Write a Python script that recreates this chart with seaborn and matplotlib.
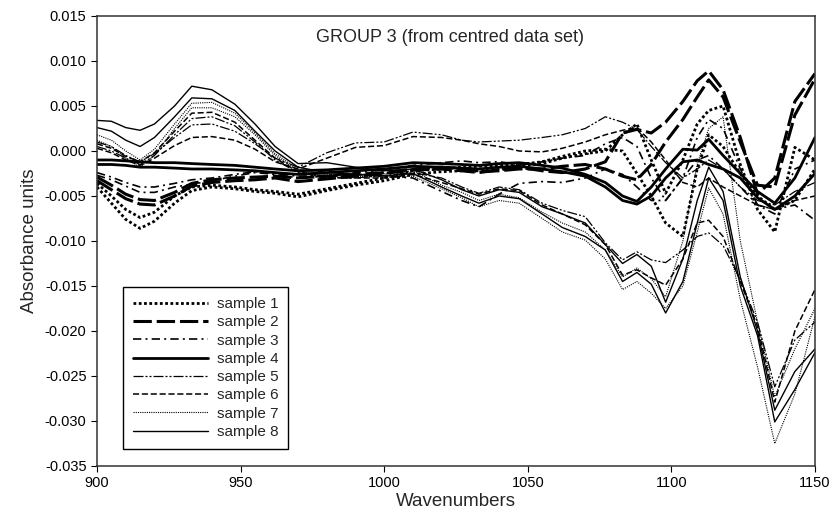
import numpy as np
import pandas as pd
import matplotlib
matplotlib.use("Agg")
import matplotlib.pyplot as plt
import seaborn as sns

wavenumbers = [900, 905, 910, 915, 920, 927, 933, 940, 948, 955, 962, 970, 980, 990,
               1000, 1010, 1020, 1027, 1033, 1040, 1047, 1055, 1062, 1070, 1077, 1083,
               1088, 1093, 1098, 1104, 1109, 1113, 1118, 1124, 1130, 1136, 1143, 1150]

# Absorbance values, in units of 1e-3
s1_rep1 = [-4.0, -5.8, -7.6, -8.6, -7.8, -5.8, -4.4, -4.0, -4.2, -4.5, -4.7, -5.1, -4.4, -3.8,
           -3.3, -2.6, -2.3, -2.2, -2.2, -2.0, -1.6, -1.4, -0.8, -0.3, 0.0, 1.8,
           3.0, -1.0, -4.7, -1.0, 3.0, 4.5, 5.0, -1.5, -6.5, -9.0, 0.4, -1.0]
s1_rep2 = [-3.6, -5.0, -6.5, -7.4, -6.8, -5.0, -4.0, -3.8, -4.0, -4.3, -4.5, -4.8, -4.2, -3.6,
           -3.0, -2.2, -2.0, -1.8, -1.7, -1.6, -1.5, -1.2, -0.6, 0.0, 0.2, 0.0,
           -2.5, -5.0, -8.0, -9.5, -2.0, 1.8, 0.5, -2.5, -5.0, -6.5, -5.5, -2.0]
s2_rep1 = [-3.3, -4.3, -5.3, -5.9, -6.0, -5.0, -3.9, -3.5, -3.3, -3.2, -3.0, -3.4, -3.1, -2.8,
           -2.5, -2.1, -2.0, -2.2, -2.4, -2.1, -1.8, -2.2, -2.4, -2.0, -1.2, 2.0,
           2.4, 2.0, 3.2, 5.5, 7.8, 8.9, 6.8, 1.5, -4.8, -3.0, 5.5, 8.6]
s2_rep2 = [-2.9, -3.8, -4.8, -5.4, -5.5, -4.6, -3.6, -3.2, -3.0, -2.9, -2.8, -3.0, -2.8, -2.6,
           -2.4, -2.0, -1.8, -2.0, -2.3, -2.2, -2.0, -2.0, -1.7, -1.5, -2.0, -2.8,
           -3.2, -1.5, 1.0, 3.5, 6.0, 7.9, 6.0, 1.0, -3.8, -4.0, 4.0, 8.0]
s3_rep1 = [-2.7, -3.2, -3.9, -4.6, -4.6, -4.0, -3.7, -3.3, -2.8, -2.4, -2.6, -3.0, -2.8, -2.4,
           -2.1, -1.6, -1.3, -1.1, -1.3, -1.2, -1.5, -1.2, -0.8, -0.5, 0.8, 1.5,
           0.5, -3.0, -5.5, -3.0, 1.5, 3.5, 2.5, -2.0, -6.0, -7.0, -2.0, -1.0]
s3_rep2 = [-2.4, -2.9, -3.5, -4.0, -4.0, -3.6, -3.2, -3.0, -2.6, -2.3, -2.5, -2.8, -2.7, -2.6,
           -2.8, -3.0, -4.5, -5.5, -6.2, -4.8, -3.6, -3.4, -3.5, -3.0, -2.0, -2.6,
           -4.0, -5.5, -5.5, -3.0, -1.0, -0.5, -2.0, -4.0, -6.0, -6.5, -6.0, -7.7]
s4_rep1 = [-1.0, -1.0, -1.1, -1.2, -1.3, -1.3, -1.4, -1.5, -1.6, -1.8, -2.0, -2.2, -2.1, -1.9,
           -1.7, -1.3, -1.4, -1.5, -1.6, -1.4, -1.3, -1.6, -1.9, -2.6, -3.5, -5.0,
           -5.6, -4.0, -2.0, 0.2, 0.1, 1.3, -0.5, -2.5, -4.5, -5.8, -3.0, 1.5]
s4_rep2 = [-1.5, -1.5, -1.6, -1.8, -1.8, -1.9, -2.0, -2.0, -2.1, -2.2, -2.4, -2.6, -2.4, -2.2,
           -2.0, -1.7, -1.8, -1.9, -2.0, -1.8, -1.7, -2.0, -2.3, -2.8, -4.0, -5.5,
           -5.9, -5.0, -3.0, -1.2, -1.0, -1.5, -2.0, -3.0, -5.2, -6.5, -5.0, -2.5]
s5_rep1 = [0.5, 0.0, -0.8, -1.5, -0.5, 1.8, 3.6, 3.8, 2.8, 1.0, -1.0, -2.4, -3.0, -3.0,
           -2.7, -2.4, -3.0, -4.0, -4.7, -4.0, -4.3, -5.8, -6.6, -7.3, -10.2, -12.1,
           -11.2, -12.1, -12.4, -11.0, -9.5, -9.1, -10.5, -14.3, -19.0, -26.2, -21.0, -19.0]
s5_rep2 = [1.0, 0.5, -0.5, -1.2, -0.3, 1.5, 2.9, 3.0, 2.2, 0.8, -0.8, -1.8, -0.2, 0.9,
           1.0, 2.1, 1.8, 1.2, 1.0, 1.1, 1.2, 1.5, 1.8, 2.5, 3.8, 3.2,
           2.4, 0.5, -1.3, -3.0, -2.0, -1.0, -2.0, -4.0, -5.5, -6.0, -4.5, -3.5]
s6_rep1 = [0.8, 0.3, -0.6, -1.2, -0.2, 2.2, 4.2, 4.3, 3.2, 1.2, -0.8, -2.3, -2.9, -3.0,
           -3.0, -2.6, -3.5, -4.2, -4.8, -4.2, -4.4, -6.0, -7.0, -8.2, -10.4, -13.8,
           -13.2, -14.1, -14.9, -12.0, -8.0, -7.7, -9.5, -14.5, -19.5, -27.9, -20.0, -15.4]
s6_rep2 = [0.3, -0.2, -1.0, -1.6, -0.8, 0.6, 1.5, 1.6, 1.2, 0.2, -1.2, -2.0, -0.8, 0.4,
           0.6, 1.6, 1.5, 1.2, 0.8, 0.5, 0.0, -0.1, 0.3, 1.0, 1.8, 2.3,
           2.6, 1.0, -1.0, -3.5, -4.0, -3.0, -4.0, -5.0, -6.0, -6.5, -5.5, -5.0]
s7_rep1 = [1.8, 1.2, 0.0, -1.0, 0.2, 3.0, 5.3, 5.4, 4.2, 2.0, -0.3, -2.0, -2.6, -2.8,
           -2.9, -2.8, -4.2, -5.2, -6.2, -5.5, -5.8, -7.5, -9.0, -9.9, -12.0, -15.4,
           -14.5, -15.8, -17.5, -15.0, -9.0, -4.1, -7.0, -16.5, -24.0, -32.5, -27.0, -18.4]
s7_rep2 = [1.2, 0.5, -0.8, -1.8, -0.5, 2.5, 4.8, 4.8, 3.8, 1.8, -0.5, -2.2, -2.8, -2.6,
           -2.5, -2.2, -3.8, -4.6, -5.5, -4.8, -5.2, -6.8, -8.0, -9.0, -11.0, -14.0,
           -13.0, -14.2, -16.2, -10.0, -1.5, 2.5, 3.8, -10.0, -19.0, -27.3, -22.0, -17.5]
s8_rep1 = [3.4, 3.3, 2.6, 2.3, 3.0, 5.0, 7.2, 6.8, 5.2, 3.0, 0.5, -1.4, -1.3, -1.8,
           -2.2, -2.0, -3.2, -4.3, -5.0, -4.3, -4.6, -6.2, -7.0, -8.0, -10.4, -12.5,
           -11.5, -12.8, -16.8, -12.0, -5.5, -1.8, -4.5, -14.0, -20.0, -28.8, -24.5, -22.0]
s8_rep2 = [2.6, 2.2, 1.2, 0.5, 1.5, 3.8, 5.9, 5.8, 4.5, 2.2, 0.0, -1.8, -2.4, -2.6,
           -2.8, -2.5, -4.0, -5.0, -5.8, -5.0, -5.3, -7.0, -8.5, -9.5, -11.0, -14.5,
           -13.5, -14.8, -18.0, -14.5, -8.0, -3.0, -5.5, -15.0, -20.5, -30.1, -26.5, -22.4]

sample_names = ["sample 1", "sample 2", "sample 3", "sample 4",
                "sample 5", "sample 6", "sample 7", "sample 8"]
replicates = [[s1_rep1, s1_rep2], [s2_rep1, s2_rep2], [s3_rep1, s3_rep2], [s4_rep1, s4_rep2],
              [s5_rep1, s5_rep2], [s6_rep1, s6_rep2], [s7_rep1, s7_rep2], [s8_rep1, s8_rep2]]

y_ticks = [-0.035, -0.030, -0.025, -0.020, -0.015, -0.010, -0.005, 0.000, 0.005, 0.010, 0.015]
x_ticks = [900, 950, 1000, 1050, 1100, 1150]

# line styles (style only, not data)
styles = {
    "sample 1": dict(lw=2.0, ls=(0, (1.0, 0.9))),
    "sample 2": dict(lw=2.2, ls=(0, (6.0, 1.6))),
    "sample 3": dict(lw=1.2, ls=(0, (5.0, 2.5, 1.2, 2.5))),
    "sample 4": dict(lw=2.0, ls="-"),
    "sample 5": dict(lw=0.9, ls=(0, (8.0, 1.6, 1.6, 1.6, 1.6, 1.6))),
    "sample 6": dict(lw=1.1, ls=(0, (4.0, 1.8))),
    "sample 7": dict(lw=0.8, ls=(0, (1.0, 1.0))),
    "sample 8": dict(lw=1.0, ls="-"),
}

rows = []
for name, reps in zip(sample_names, replicates):
    for r, vals in enumerate(reps):
        for w, v in zip(wavenumbers, vals):
            rows.append({"sample": name, "rep": r, "Wavenumbers": w,
                         "Absorbance units": v / 1000.0})
df = pd.DataFrame(rows)

sns.set_style("ticks")
plt.rcParams["font.family"] = ["Liberation Sans", "DejaVu Sans"]

fig = plt.figure(figsize=(8.35, 5.14), dpi=100)
ax = fig.add_axes([0.1162, 0.0934, 0.8598, 0.8755])

for name in sample_names:
    st = styles[name]
    for r in range(2):
        sub = df[(df["sample"] == name) & (df["rep"] == r)]
        sns.lineplot(data=sub, x="Wavenumbers", y="Absorbance units", ax=ax,
                     color="black", linewidth=st["lw"], linestyle=st["ls"],
                     estimator=None, sort=False,
                     label=name if r == 0 else "_nolegend_")

ax.set_xlim(900, 1150)
ax.set_ylim(-0.035, 0.015)
ax.set_xticks(x_ticks)
ax.set_yticks(y_ticks)
ax.set_yticklabels([f"{t:.3f}" for t in y_ticks])
ax.tick_params(axis="both", labelsize=10.5, direction="out", length=4, width=0.8,
               colors="black")
for s in ax.spines.values():
    s.set_visible(True)
    s.set_color("#333333")
    s.set_linewidth(1.1)

ax.set_xlabel("Wavenumbers", fontsize=13.5, labelpad=2)
ax.set_ylabel("Absorbance units", fontsize=13.5, labelpad=5)
ax.text(0.492, 0.953, "GROUP 3 (from centred data set)", transform=ax.transAxes,
        ha="center", va="center", fontsize=13)

leg = ax.legend(loc="lower left", bbox_to_anchor=(0.036, 0.038), borderaxespad=0,
                fontsize=11, handlelength=4.9, handletextpad=0.6, labelspacing=0.28,
                borderpad=0.65, frameon=True, fancybox=False, framealpha=1)
leg.get_frame().set_edgecolor("black")
leg.get_frame().set_linewidth(1.0)

fig.savefig("out.png", dpi=100)
